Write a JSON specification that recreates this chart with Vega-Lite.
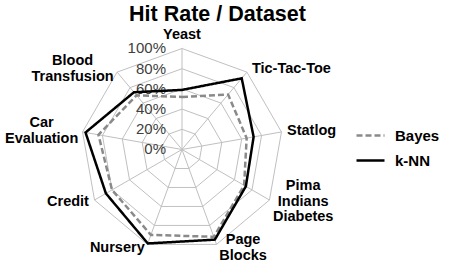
{
  "$schema": "https://vega.github.io/schema/vega-lite/v6.json",
  "width": 449,
  "height": 264,
  "autosize": {"type": "none"},
  "padding": 0,
  "background": "white",
  "title": {
    "text": "Hit Rate / Dataset",
    "fontSize": 21.5,
    "font": "Liberation Sans",
    "fontWeight": "bold",
    "color": "#000000",
    "anchor": "middle",
    "frame": "group",
    "baseline": "alphabetic",
    "offset": -42,
    "dx": -7
  },
  "config": {
    "view": {"stroke": null},
    "font": "Liberation Sans",
    "legend": {
      "orient": "none",
      "legendX": 355,
      "legendY": 123,
      "padding": 0,
      "symbolType": "stroke",
      "symbolSize": 784,
      "symbolStrokeWidth": 2.5,
      "clipHeight": 25,
      "rowPadding": 0,
      "labelOffset": 9,
      "labelFont": "Liberation Sans",
      "labelFontSize": 15,
      "labelFontWeight": "bold",
      "labelColor": "#000000"
    }
  },
  "datasets": {
    "hits": [
      {"dataset": "Yeast", "idx": 0, "series": "Bayes", "value": 52},
      {"dataset": "Tic-Tac-Toe", "idx": 1, "series": "Bayes", "value": 71},
      {"dataset": "Statlog", "idx": 2, "series": "Bayes", "value": 65},
      {"dataset": "Pima Indians Diabetes", "idx": 3, "series": "Bayes", "value": 71},
      {"dataset": "Page Blocks", "idx": 4, "series": "Bayes", "value": 92},
      {"dataset": "Nursery", "idx": 5, "series": "Bayes", "value": 90},
      {"dataset": "Credit", "idx": 6, "series": "Bayes", "value": 80},
      {"dataset": "Car Evaluation", "idx": 7, "series": "Bayes", "value": 84},
      {"dataset": "Blood Transfusion", "idx": 8, "series": "Bayes", "value": 70},
      {"dataset": "Yeast", "idx": 0, "series": "k-NN", "value": 59},
      {"dataset": "Tic-Tac-Toe", "idx": 1, "series": "k-NN", "value": 92},
      {"dataset": "Statlog", "idx": 2, "series": "k-NN", "value": 72},
      {"dataset": "Pima Indians Diabetes", "idx": 3, "series": "k-NN", "value": 73},
      {"dataset": "Page Blocks", "idx": 4, "series": "k-NN", "value": 95},
      {"dataset": "Nursery", "idx": 5, "series": "k-NN", "value": 99},
      {"dataset": "Credit", "idx": 6, "series": "k-NN", "value": 87},
      {"dataset": "Car Evaluation", "idx": 7, "series": "k-NN", "value": 97},
      {"dataset": "Blood Transfusion", "idx": 8, "series": "k-NN", "value": 74}
    ],
    "axes": [
      {"idx": 0, "name": ["Yeast"], "ring": [20, 40, 60, 80, 100]},
      {"idx": 1, "name": ["Tic-Tac-Toe"], "ring": [20, 40, 60, 80, 100]},
      {"idx": 2, "name": ["Statlog"], "ring": [20, 40, 60, 80, 100]},
      {"idx": 3, "name": ["Pima", "Indians", "Diabetes"], "ring": [20, 40, 60, 80, 100]},
      {"idx": 4, "name": ["Page", "Blocks"], "ring": [20, 40, 60, 80, 100]},
      {"idx": 5, "name": ["Nursery"], "ring": [20, 40, 60, 80, 100]},
      {"idx": 6, "name": ["Credit"], "ring": [20, 40, 60, 80, 100]},
      {"idx": 7, "name": ["Car", "Evaluation"], "ring": [20, 40, 60, 80, 100]},
      {"idx": 8, "name": ["Blood", "Transfusion"], "ring": [20, 40, 60, 80, 100]}
    ],
    "levels": [
      {"lvl": 0}, {"lvl": 20}, {"lvl": 40}, {"lvl": 60}, {"lvl": 80}, {"lvl": 100}
    ]
  },
  "encoding": {
    "x": {"field": "px", "type": "quantitative", "axis": null,
          "scale": {"domain": [-180.2, 264.36], "nice": false, "zero": false}},
    "y": {"field": "py", "type": "quantitative", "axis": null,
          "scale": {"domain": [-113.37, 148.02], "nice": false, "zero": false}}
  },
  "layer": [
    {
      "data": {"name": "axes"},
      "transform": [
        {"flatten": ["ring"]},
        {"calculate": "datum.idx * 2 * PI / 9", "as": "th"},
        {"calculate": "datum.ring * sin(datum.th)", "as": "px"},
        {"calculate": "datum.ring * cos(datum.th)", "as": "py"}
      ],
      "mark": {"type": "line", "interpolate": "linear-closed", "stroke": "#c0c0c0", "strokeWidth": 1},
      "encoding": {
        "detail": {"field": "ring", "type": "nominal"},
        "order": {"field": "idx", "type": "quantitative"}
      }
    },
    {
      "data": {"name": "axes"},
      "transform": [
        {"calculate": "datum.idx * 2 * PI / 9", "as": "th"},
        {"calculate": "0", "as": "px"},
        {"calculate": "0", "as": "py"},
        {"calculate": "100 * sin(datum.th)", "as": "ex"},
        {"calculate": "100 * cos(datum.th)", "as": "ey"}
      ],
      "mark": {"type": "rule", "stroke": "#c0c0c0", "strokeWidth": 1},
      "encoding": {
        "x2": {"field": "ex"},
        "y2": {"field": "ey"}
      }
    },
    {
      "data": {"name": "levels"},
      "transform": [
        {"calculate": "0", "as": "px"},
        {"calculate": "datum.lvl", "as": "py"},
        {"calculate": "datum.lvl + '%'", "as": "lab"}
      ],
      "mark": {"type": "text", "align": "right", "baseline": "middle", "dx": -16, "fontSize": 15, "font": "Liberation Sans", "color": "#404040"},
      "encoding": {
        "text": {"field": "lab", "type": "nominal"}
      }
    },
    {
      "data": {"name": "hits"},
      "transform": [
        {"calculate": "datum.idx * 2 * PI / 9", "as": "th"},
        {"calculate": "datum.value * sin(datum.th)", "as": "px"},
        {"calculate": "datum.value * cos(datum.th)", "as": "py"}
      ],
      "mark": {"type": "line", "interpolate": "linear-closed", "strokeWidth": 2.5},
      "encoding": {
        "color": {"field": "series", "type": "nominal", "title": null,
                  "scale": {"domain": ["Bayes", "k-NN"], "range": ["#8a8a8a", "#000000"]}},
        "strokeDash": {"field": "series", "type": "nominal", "title": null,
                       "scale": {"domain": ["Bayes", "k-NN"], "range": [[6, 3], [1, 0]]}},
        "order": {"field": "idx", "type": "quantitative"}
      }
    },
    {
      "data": {"name": "axes"},
      "transform": [
        {"calculate": "datum.idx * 2 * PI / 9", "as": "th"},
        {"calculate": "sin(datum.th)", "as": "s"},
        {"calculate": "cos(datum.th)", "as": "c"},
        {"calculate": "max(length(datum.name[0]), length(datum.name.length > 1 ? datum.name[1] : ''), length(datum.name.length > 2 ? datum.name[2] : '')) * 7.1", "as": "w"},
        {"calculate": "abs(datum.s) < 0.1 ? 0 : 100 * datum.s + (datum.s > 0 ? 1 : -1) * (5 + datum.w / 2)", "as": "px"},
        {"calculate": "(abs(datum.s) < 0.1 ? 113.5 * datum.c : 104 * datum.c) + (datum.name.length - 1) * 7.75", "as": "py"}
      ],
      "mark": {"type": "text", "align": "center", "baseline": "middle", "fontSize": 14.5, "fontWeight": "bold", "font": "Liberation Sans", "lineHeight": 15.5, "color": "#000000"},
      "encoding": {
        "text": {"field": "name", "type": "nominal"}
      }
    }
  ]
}
